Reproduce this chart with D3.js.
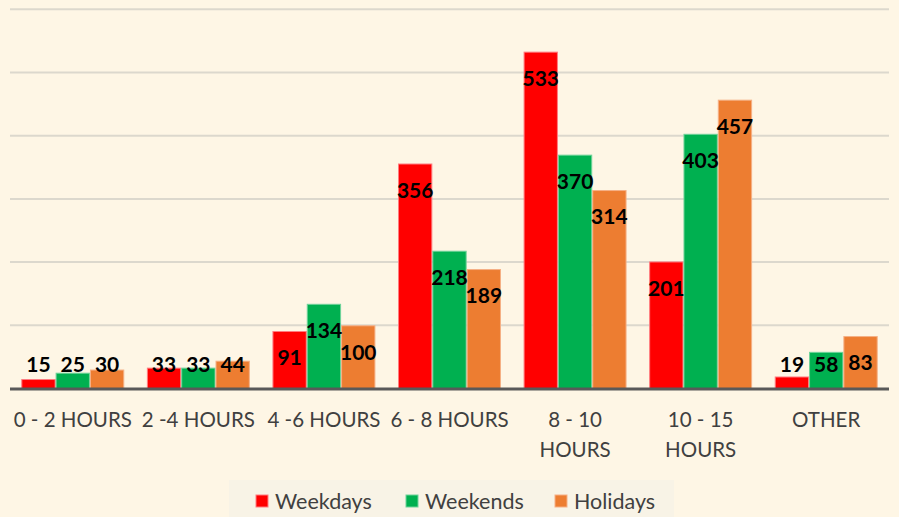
<!DOCTYPE html>
<html><head><meta charset="utf-8">
<script src="https://cdn.jsdelivr.net/npm/d3@7"></script>
<style>html,body{margin:0;padding:0;background:#fef6e5;}svg{display:block;}</style>
</head><body><svg id="c" width="899" height="517"></svg>
<script>
const categories = [["0 - 2 HOURS"],["2 -4 HOURS"],["4 -6 HOURS"],["6 - 8 HOURS"],["8 - 10","HOURS"],["10 - 15","HOURS"],["OTHER"]];
const seriesNames = ["Weekdays","Weekends","Holidays"];
const weekdays = [15,33,91,356,533,201,19];
const weekends = [25,33,134,218,370,403,58];
const holidays = [30,44,100,189,314,457,83];
const yTicks = [0,100,200,300,400,500,600];
const colors = ["#ff0000","#00b050","#ed7d31"];
const strokes = ["#ff7c80","#6fd39a","#f5b085"];
const series = [weekdays, weekends, holidays];

(function(){
const svg = d3.select("#c");
const W=899,H=517;
svg.append("rect").attr("width",W).attr("height",H).attr("fill","#fef6e5");
const pLeft=10,pRight=889,pTop=9.3,base=388.5;
const y=d3.scaleLinear().domain([0,600]).range([base,pTop]);
const x=d3.scaleBand().domain(d3.range(categories.length)).range([pLeft,pRight]).paddingInner(0).paddingOuter(0);
const groupW = x.bandwidth()*0.82;
const xs=d3.scaleBand().domain(d3.range(3)).range([0,groupW]);
const font="Lato, 'Open Sans', sans-serif";

svg.append("g").selectAll("line").data(yTicks.slice(1)).join("line")
 .attr("x1",pLeft).attr("x2",pRight).attr("y1",d=>y(d)).attr("y2",d=>y(d))
 .attr("stroke","#dcd8cd").attr("stroke-width",2);

series.forEach((s,si)=>{
  svg.append("g").selectAll("rect").data(s).join("rect")
   .attr("x",(d,i)=>x(i)+(x.bandwidth()-groupW)/2+xs(si)+0.5)
   .attr("y",d=>y(d)+0.5)
   .attr("width",xs.bandwidth()-1)
   .attr("height",d=>base-y(d)-0.5)
   .attr("fill",colors[si]).attr("stroke",strokes[si]).attr("stroke-width",1);
});
svg.append("line").attr("x1",pLeft).attr("x2",pRight).attr("y1",base+0.5).attr("y2",base+0.5)
 .attr("stroke","#595959").attr("stroke-width",3);

series.forEach((s,si)=>{
  svg.append("g").selectAll("text").data(s).join("text")
   .attr("x",(d,i)=>x(i)+(x.bandwidth()-groupW)/2+xs(si)+xs.bandwidth()/2)
   .attr("y",d=>Math.min(y(d)+27, base-24))
   .attr("dy","0.35em")
   .attr("text-anchor","middle")
   .attr("font-family",font).attr("font-weight","bold").attr("font-size",21)
   .attr("fill","#000").text(d=>d);
});

const xl=svg.append("g");
categories.forEach((c,i)=>{
  c.forEach((line,j)=>{
    xl.append("text").attr("x",x(i)+x.bandwidth()/2).attr("y",420+j*30).attr("dy","0.35em")
     .attr("text-anchor","middle").attr("font-family",font).attr("font-size",20.5)
     .attr("fill","#404040").text(line);
  });
});

svg.append("rect").attr("x",229).attr("y",480).attr("width",445).attr("height",37).attr("fill","#f8f3e6");
const legX=[256,406,555];
seriesNames.forEach((n,i)=>{
  svg.append("rect").attr("x",legX[i]).attr("y",495).attr("width",12).attr("height",12)
   .attr("fill",colors[i]).attr("stroke",strokes[i]);
  svg.append("text").attr("x",legX[i]+19).attr("y",501).attr("dy","0.35em")
   .attr("font-family",font).attr("font-size",21.5).attr("fill","#404040").text(n);
});
})();
</script></body></html>
